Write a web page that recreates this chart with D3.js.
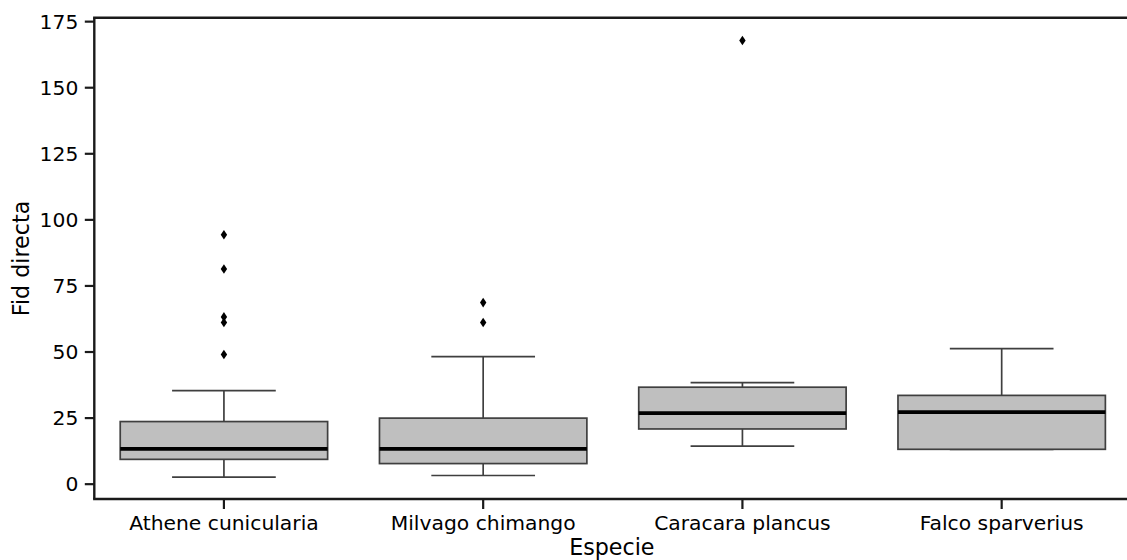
<!DOCTYPE html>
<html>
<head>
<meta charset="utf-8">
<script src="https://cdn.jsdelivr.net/npm/d3@7"></script>
<style>
  html, body { margin: 0; padding: 0; background: #fff; }
  svg { display: block; font-family: "DejaVu Sans", sans-serif; }
</style>
</head>
<body>
<svg id="chart" width="1127" height="560"></svg>
<script>
// Box summary per species (Fid directa)
const species = ["Athene cunicularia", "Milvago chimango", "Caracara plancus", "Falco sparverius"];
const whiskerLow  = [2.5, 3.1, 14.2, 13.0];
const q1          = [9.2, 7.6, 20.7, 13.0];
const median      = [13.2, 13.2, 26.7, 27.1];
const q3          = [23.5, 24.8, 36.5, 33.4];
const whiskerHigh = [35.2, 48.1, 38.2, 51.1];
const outliers = [
  [94.2, 81.2, 63.1, 61.0, 48.9],
  [68.5, 61.0],
  [167.7],
  []
];
const yTicks = [0, 25, 50, 75, 100, 125, 150, 175];

const svg = d3.select("#chart");
const plot = { left: 94.3, right: 1131.3, top: 17.7, bottom: 499 };

const x = d3.scaleBand()
  .domain(species)
  .range([plot.left, plot.right])
  .paddingInner(0).paddingOuter(0);
const y = d3.scaleLinear()
  .domain([-5.8, 176.3])
  .range([plot.bottom, plot.top]);

const boxW = x.bandwidth() * 0.8;
const capW = x.bandwidth() * 0.4;
const edge = "#3f3f3f";

const rows = species.map((s, i) => ({
  s, lo: whiskerLow[i], q1: q1[i], med: median[i], q3: q3[i], hi: whiskerHigh[i], out: outliers[i]
}));

const g = svg.append("g");
const box = g.selectAll("g.box").data(rows).join("g").attr("class", "box")
  .attr("transform", d => `translate(${x(d.s) + x.bandwidth() / 2},0)`);

// whiskers
box.append("line").attr("x1", 0).attr("x2", 0)
  .attr("y1", d => y(d.q3)).attr("y2", d => y(d.hi))
  .attr("stroke", edge).attr("stroke-width", 1.7);
box.append("line").attr("x1", 0).attr("x2", 0)
  .attr("y1", d => y(d.q1)).attr("y2", d => y(d.lo))
  .attr("stroke", edge).attr("stroke-width", 1.7);
// caps
box.append("line").attr("x1", -capW / 2).attr("x2", capW / 2)
  .attr("y1", d => y(d.hi)).attr("y2", d => y(d.hi))
  .attr("stroke", edge).attr("stroke-width", 1.7);
box.append("line").attr("x1", -capW / 2).attr("x2", capW / 2)
  .attr("y1", d => y(d.lo)).attr("y2", d => y(d.lo))
  .attr("stroke", edge).attr("stroke-width", 1.7);
// box body
box.append("rect")
  .attr("x", -boxW / 2).attr("width", boxW)
  .attr("y", d => y(d.q3)).attr("height", d => y(d.q1) - y(d.q3))
  .attr("fill", "#bfbfbf").attr("stroke", edge).attr("stroke-width", 1.7);
// median
box.append("line").attr("x1", -boxW / 2).attr("x2", boxW / 2)
  .attr("y1", d => y(d.med)).attr("y2", d => y(d.med))
  .attr("stroke", "#000").attr("stroke-width", 3.8);
// outliers (diamonds)
box.selectAll("path.flier").data(d => d.out).join("path").attr("class", "flier")
  .attr("d", v => `M0,${y(v) - 4.8}L3.2,${y(v)}L0,${y(v) + 4.8}L-3.2,${y(v)}Z`)
  .attr("fill", "#000");

// axes
const axisColor = "#1a1a1a";
const yAxis = svg.append("g").attr("transform", `translate(${plot.left},0)`)
  .call(d3.axisLeft(y).tickValues(yTicks).tickSize(9.5).tickPadding(6.5).tickSizeOuter(0));
const xAxis = svg.append("g").attr("transform", `translate(0,${plot.bottom})`)
  .call(d3.axisBottom(x).tickSize(10).tickPadding(6).tickSizeOuter(0));
[yAxis, xAxis].forEach(a => {
  a.select(".domain").remove();
  a.selectAll(".tick line").attr("stroke", axisColor).attr("stroke-width", 2.2);
  a.selectAll(".tick text").attr("fill", "#000")
    .style("font-family", "'DejaVu Sans', sans-serif").style("font-size", "20.3px");
});
yAxis.selectAll(".tick text").attr("dy", "0.36em");
xAxis.selectAll(".tick text").attr("dy", "0.74em");

// spines: left, bottom, top
svg.append("line").attr("x1", plot.left).attr("x2", plot.left)
  .attr("y1", plot.top).attr("y2", plot.bottom).attr("stroke", axisColor).attr("stroke-width", 2.4);
svg.append("line").attr("x1", plot.left - 1.2).attr("x2", plot.right)
  .attr("y1", plot.bottom).attr("y2", plot.bottom).attr("stroke", axisColor).attr("stroke-width", 2.4);
svg.append("line").attr("x1", plot.left - 1.2).attr("x2", plot.right)
  .attr("y1", plot.top).attr("y2", plot.top).attr("stroke", axisColor).attr("stroke-width", 2.4);

// axis titles
svg.append("text").attr("x", (plot.left + plot.right) / 2 - 1).attr("y", 555)
  .attr("text-anchor", "middle").attr("fill", "#000")
  .style("font-size", "22.2px").text("Especie");
svg.append("text").attr("transform", `translate(29,${258.5}) rotate(-90)`)
  .attr("text-anchor", "middle").attr("fill", "#000")
  .style("font-size", "22.2px").text("Fid directa");
</script>
</body>
</html>
